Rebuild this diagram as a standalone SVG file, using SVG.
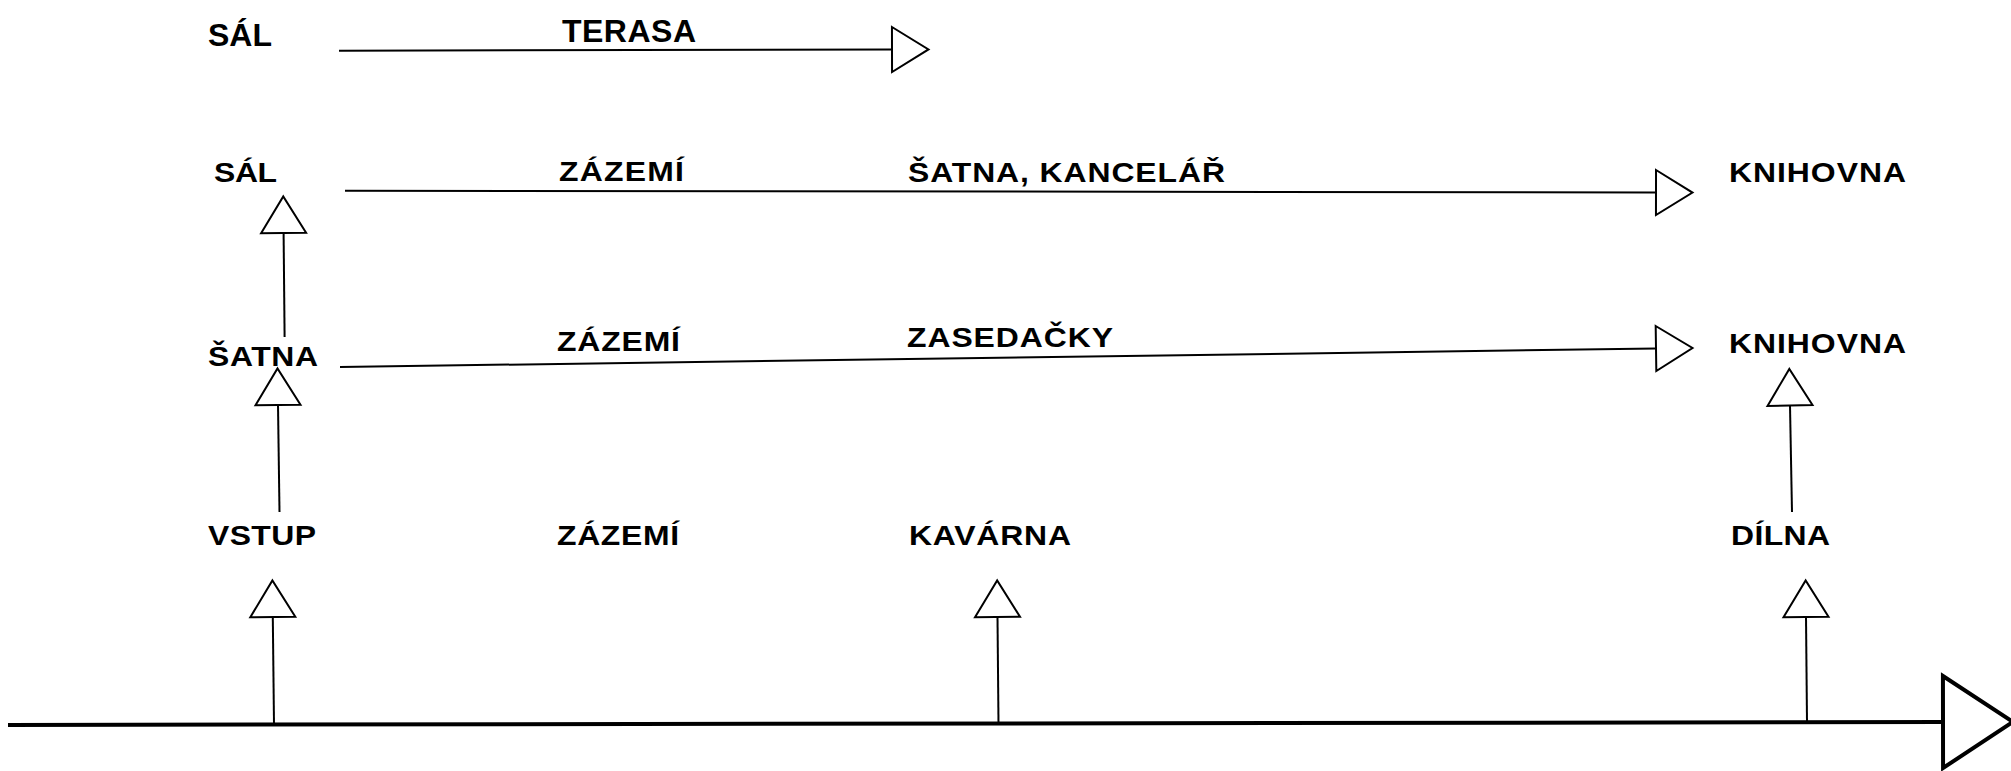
<svg xmlns="http://www.w3.org/2000/svg" width="2011" height="771" viewBox="0 0 2011 771">
  <style>
    .t { font-family: "Liberation Sans", Arial, sans-serif; font-weight: bold; fill: #000; }
    .big { font-size: 32px; }
    .lbl { font-size: 28.5px; }
    .c { stroke: #000; stroke-width: 2; fill: none; }
    .axis { stroke: #000; stroke-width: 4; fill: none; }
  </style>
  <defs>
    <marker id="tri" markerUnits="userSpaceOnUse" viewBox="-3 -26 44 52" markerWidth="44" markerHeight="52" refX="0" refY="0" orient="auto">
      <path d="M0,-22.5 L36.5,0 L0,22.5 Z" fill="#fff" stroke="#000" stroke-width="2"/>
    </marker>
    <marker id="bigtri" markerUnits="userSpaceOnUse" viewBox="-4 -50 80 100" markerWidth="80" markerHeight="100" refX="0" refY="0" orient="auto">
      <path d="M0,-46 L70,0 L0,46 Z" fill="#fff" stroke="#000" stroke-width="4"/>
    </marker>
  </defs>
  <rect x="0" y="0" width="2011" height="771" fill="#fff"/>

  <g id="connectors">
    <line class="c" x1="339" y1="50.7" x2="892" y2="49.5" marker-end="url(#tri)"/>
    <line class="c" x1="345" y1="190.7" x2="1656" y2="192.5" marker-end="url(#tri)"/>
    <line class="c" x1="340" y1="367" x2="1656" y2="348.5" marker-end="url(#tri)"/>
    <line class="c" x1="284.6" y1="337" x2="283.6" y2="233" marker-end="url(#tri)"/>
    <line class="c" x1="279.5" y1="512" x2="278" y2="405" marker-end="url(#tri)"/>
    <line class="c" x1="1792" y1="512" x2="1790" y2="405.5" marker-end="url(#tri)"/>
    <line class="c" x1="274" y1="724" x2="272.8" y2="617" marker-end="url(#tri)"/>
    <line class="c" x1="998.5" y1="724" x2="997.5" y2="617" marker-end="url(#tri)"/>
    <line class="c" x1="1807" y1="722" x2="1806" y2="617" marker-end="url(#tri)"/>
    <line class="axis" x1="8" y1="725" x2="1943" y2="722" marker-end="url(#bigtri)"/>
  </g>

  <g id="n-sal1"><text class="t big" x="208" y="46" textLength="64" lengthAdjust="spacing">SÁL</text></g>
  <g id="n-terasa"><text class="t big" x="562" y="42" textLength="134" lengthAdjust="spacing">TERASA</text></g>

  <g id="n-sal2" transform="translate(214 182) scale(1.12 1)"><text class="t lbl" x="0" y="0" textLength="56.3" lengthAdjust="spacing">SÁL</text></g>
  <g id="n-zazemi2" transform="translate(559 181) scale(1.12 1)"><text class="t lbl" x="0" y="0" textLength="111.6" lengthAdjust="spacing">ZÁZEMÍ</text></g>
  <g id="n-satna-kancelar" transform="translate(908 182) scale(1.12 1)"><text class="t lbl" x="0" y="0" textLength="283" lengthAdjust="spacing">ŠATNA, KANCELÁŘ</text></g>
  <g id="n-knihovna2" transform="translate(1729 182) scale(1.12 1)"><text class="t lbl" x="0" y="0" textLength="158" lengthAdjust="spacing">KNIHOVNA</text></g>

  <g id="n-satna3" transform="translate(208 366) scale(1.12 1)"><text class="t lbl" x="0" y="0" textLength="98.2" lengthAdjust="spacing">ŠATNA</text></g>
  <g id="n-zazemi3" transform="translate(557 351) scale(1.12 1)"><text class="t lbl" x="0" y="0" textLength="109.8" lengthAdjust="spacing">ZÁZEMÍ</text></g>
  <g id="n-zasedacky" transform="translate(907 347) scale(1.12 1)"><text class="t lbl" x="0" y="0" textLength="184" lengthAdjust="spacing">ZASEDAČKY</text></g>
  <g id="n-knihovna3" transform="translate(1729 353) scale(1.12 1)"><text class="t lbl" x="0" y="0" textLength="158" lengthAdjust="spacing">KNIHOVNA</text></g>

  <g id="n-vstup" transform="translate(208 545) scale(1.12 1)"><text class="t lbl" x="0" y="0" textLength="96.4" lengthAdjust="spacing">VSTUP</text></g>
  <g id="n-zazemi4" transform="translate(557 545) scale(1.12 1)"><text class="t lbl" x="0" y="0" textLength="109" lengthAdjust="spacing">ZÁZEMÍ</text></g>
  <g id="n-kavarna" transform="translate(909 545) scale(1.12 1)"><text class="t lbl" x="0" y="0" textLength="144.6" lengthAdjust="spacing">KAVÁRNA</text></g>
  <g id="n-dilna" transform="translate(1731 545) scale(1.12 1)"><text class="t lbl" x="0" y="0" textLength="88.4" lengthAdjust="spacing">DÍLNA</text></g>
</svg>
